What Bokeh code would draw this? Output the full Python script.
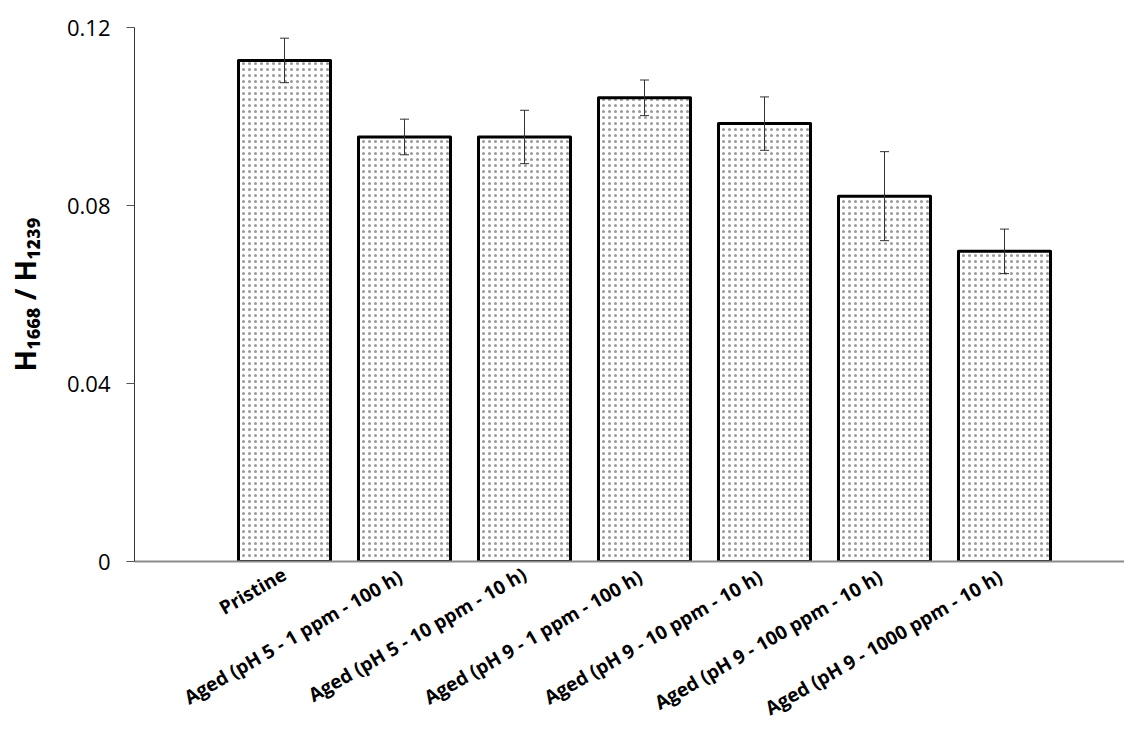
import math
from bokeh.plotting import figure
from bokeh.models import Range1d, FixedTicker, Whisker, ColumnDataSource, TeeHead
from bokeh.embed import file_html
from bokeh.resources import INLINE

categories = [
    "Pristine",
    "Aged (pH 5  - 1 ppm - 100 h)",
    "Aged (pH 5 - 10 ppm - 10 h)",
    "Aged (pH 9  - 1 ppm - 100 h)",
    "Aged (pH 9  - 10 ppm - 10 h)",
    "Aged (pH 9  - 100 ppm - 10 h)",
    "Aged (pH 9  - 1000 ppm - 10 h)",
]
ratio = [0.1126, 0.0954, 0.0954, 0.1042, 0.0984, 0.0821, 0.0697]
error = [0.005, 0.004, 0.006, 0.004, 0.006, 0.010, 0.005]
y_ticks = [0, 0.04, 0.08, 0.12]
y_tick_labels = ["0", "0.04", "0.08", "0.12"]
y_title = "H\u2081\u2086\u2086\u2088 / H\u2081\u2082\u2083\u2089"

xs = list(range(len(categories)))
src = ColumnDataSource(dict(
    x=xs, top=ratio,
    upper=[r + e for r, e in zip(ratio, error)],
    lower=[r - e for r, e in zip(ratio, error)],
))

W, H = 1124, 735
BL, BR, BT, BB = 134, 0, 27, 174

p = figure(width=W, height=H, output_backend="svg", toolbar_location=None,
           x_range=Range1d(-1.25, 7.0), y_range=Range1d(0, 0.12),
           min_border_left=BL, min_border_right=BR, min_border_top=BT, min_border_bottom=BB,
           background_fill_color="white", border_fill_color="white")
p.outline_line_color = None
p.grid.visible = False

p.vbar(x="x", top="top", bottom=0, width=0.767, source=src,
       fill_color="white", line_color="black", line_width=3, line_join="round",
       hatch_pattern="dot", hatch_scale=6, hatch_color="#999999", hatch_weight=0.5)

p.add_layout(Whisker(base="x", upper="upper", lower="lower", source=src,
                     level="annotation",
                     line_color="#333333", line_width=1,
                     upper_head=TeeHead(size=9, line_color="#333333", line_width=1),
                     lower_head=TeeHead(size=9, line_color="#333333", line_width=1)))

# x axis
xa = p.xaxis[0]
xa.ticker = FixedTicker(ticks=xs)
xa.major_label_overrides = {i: c for i, c in zip(xs, categories)}
xa.major_label_orientation = math.pi / 6
xa.major_tick_out = 0
xa.major_tick_in = 0
xa.minor_tick_line_color = None
xa.axis_line_color = "#8c8c8c"
xa.axis_line_width = 2
xa.major_label_text_font = "Open Sans"
xa.major_label_text_font_style = "bold"
xa.major_label_text_font_size = "19px"
xa.major_label_text_color = "black"
xa.major_label_standoff = 11

# y axis
ya = p.yaxis[0]
ya.ticker = FixedTicker(ticks=y_ticks)
ya.major_label_overrides = {t: l for t, l in zip(y_ticks, y_tick_labels)}
ya.major_tick_out = 8
ya.major_tick_in = 0
ya.minor_tick_line_color = None
ya.axis_line_color = "#333333"
ya.major_tick_line_color = "#555555"
ya.major_label_text_font = "Open Sans"
ya.major_label_text_font_size = "22px"
ya.major_label_text_color = "black"
ya.major_label_standoff = 16
ya.axis_label = y_title
ya.axis_label_text_font = "Open Sans"
ya.axis_label_text_font_style = "bold"
ya.axis_label_text_font_size = "28px"
ya.axis_label_text_color = "black"
ya.axis_label_standoff = 20

open("out.html", "w").write(file_html(p, INLINE))
